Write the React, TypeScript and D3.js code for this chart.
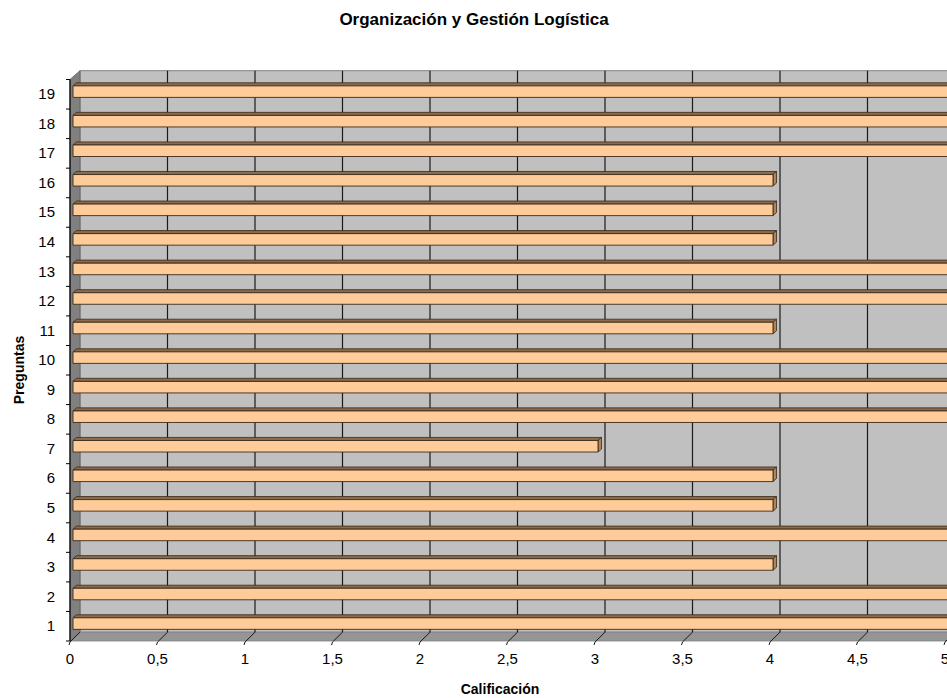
import React from "react";
import * as d3 from "d3";

const categories = ["1","2","3","4","5","6","7","8","9","10","11","12","13","14","15","16","17","18","19"];
const values = [5,5,4,5,4,4,3,5,5,5,4,5,5,4,4,4,5,5,5];
const xTicks = [0,0.5,1,1.5,2,2.5,3,3.5,4,4.5,5];
const title = "Organización y Gestión Logística";
const xTitle = "Calificación";
const yTitle = "Preguntas";

const W = 947, H = 698;
const DX = 10, DY = 8.8;

export default function App() {
  const x = d3.scaleLinear().domain([0, 5]).range([70, 945]);
  const y = d3.scaleBand<string>().domain([...categories].reverse()).range([79.5, 641]).paddingInner(0).paddingOuter(0);
  const yFront = 641, yTop = 79.5;
  const proj = (px: number, py: number, z: number): [number, number] => [px + z * DX, py - z * DY];
  const pts = (a: [number, number][]) => a.map(p => p.join(",")).join(" ");
  const fmt = (v: number) => String(v).replace(".", ",");
  const zf = 0.3, zb = 0.65;
  const bw = y.bandwidth() * 0.39;
  const xr = 1200;

  return (
    <svg width={W} height={H} style={{ position: "absolute", left: 0, top: 0, fontFamily: "'Liberation Sans', Arial, sans-serif" }}>
      <rect x={0} y={0} width={W} height={H} fill="#fff" />
      <text x={474} y={25} textAnchor="middle" fontSize={17} fontWeight="bold">{title}</text>
      {/* back wall */}
      <polygon points={pts([proj(x(0), yTop, 1), proj(xr, yTop, 1), proj(xr, yFront, 1), proj(x(0), yFront, 1)])} fill="#c0c0c0" stroke="#808080" strokeWidth={1} />
      {/* left wall */}
      <polygon points={pts([[x(0), yTop], proj(x(0), yTop, 1), proj(x(0), yFront, 1), [x(0), yFront]])} fill="#808080" stroke="#606060" strokeWidth={0.8} />
      {/* floor */}
      <polygon points={pts([[x(0), yFront], proj(x(0), yFront, 1), proj(xr, yFront, 1), [xr, yFront]])} fill="#959595" stroke="#808080" strokeWidth={0.8} />
      {/* gridlines */}
      {xTicks.map(t => {
        const [bx, by0] = proj(x(t), yTop, 1);
        const [, by1] = proj(x(t), yFront, 1);
        return (
          <g key={"g" + t}>
            {t > 0 && <line x1={bx} x2={bx} y1={by0} y2={by1} stroke="#1a1a1a" strokeWidth={1.2} />}
            <polyline points={pts([[x(t) - 1, yFront + 4], [x(t), yFront + 1], [bx, by1]])} fill="none" stroke="#1a1a1a" strokeWidth={1} />
            <text x={x(t)} y={yFront + 23} textAnchor="middle" fontSize={15}>{fmt(t)}</text>
          </g>
        );
      })}
      {/* left axis */}
      <line x1={x(0)} x2={x(0)} y1={yTop} y2={yFront} stroke="#000" strokeWidth={1.2} />
      {categories.map((c, i) => (
        <line key={"t" + c} x1={x(0) - 4} x2={x(0)} y1={(y(c) as number)} y2={(y(c) as number)} stroke="#000" strokeWidth={1} />
      ))}
      <line x1={x(0) - 4} x2={x(0)} y1={yFront} y2={yFront} stroke="#000" strokeWidth={1} />
      {categories.map(c => (
        <text key={"l" + c} x={55} y={(y(c) as number) + y.bandwidth() / 2 + 5} textAnchor="end" fontSize={15}>{c}</text>
      ))}
      {/* bars */}
      {categories.map((c, i) => {
        const v = values[i];
        const cy = (y(c) as number) + y.bandwidth() / 2;
        const t0 = cy - bw / 2, b0 = cy + bw / 2;
        const x0 = x(0), x1 = x(v);
        const fTL = proj(x0, t0, zf), fTR = proj(x1, t0, zf), fBR = proj(x1, b0, zf), fBL = proj(x0, b0, zf);
        const bTL = proj(x0, t0, zb), bTR = proj(x1, t0, zb), bBR = proj(x1, b0, zb);
        return (
          <g key={"b" + c}>
            <polygon points={pts([fTL, bTL, bTR, fTR])} fill="#8c6a4a" stroke="#3a2a1a" strokeWidth={0.8} />
            <polygon points={pts([fTR, bTR, bBR, fBR])} fill="#b08458" stroke="#3a2a1a" strokeWidth={0.8} />
            <polygon points={pts([fTL, fTR, fBR, fBL])} fill="#ffcc99" stroke="#3a2a1a" strokeWidth={0.9} />
          </g>
        );
      })}
      <text x={500} y={694} textAnchor="middle" fontSize={14} fontWeight="bold">{xTitle}</text>
      <text transform="translate(24,370) rotate(-90)" textAnchor="middle" fontSize={14} fontWeight="bold">{yTitle}</text>
    </svg>
  );
}
